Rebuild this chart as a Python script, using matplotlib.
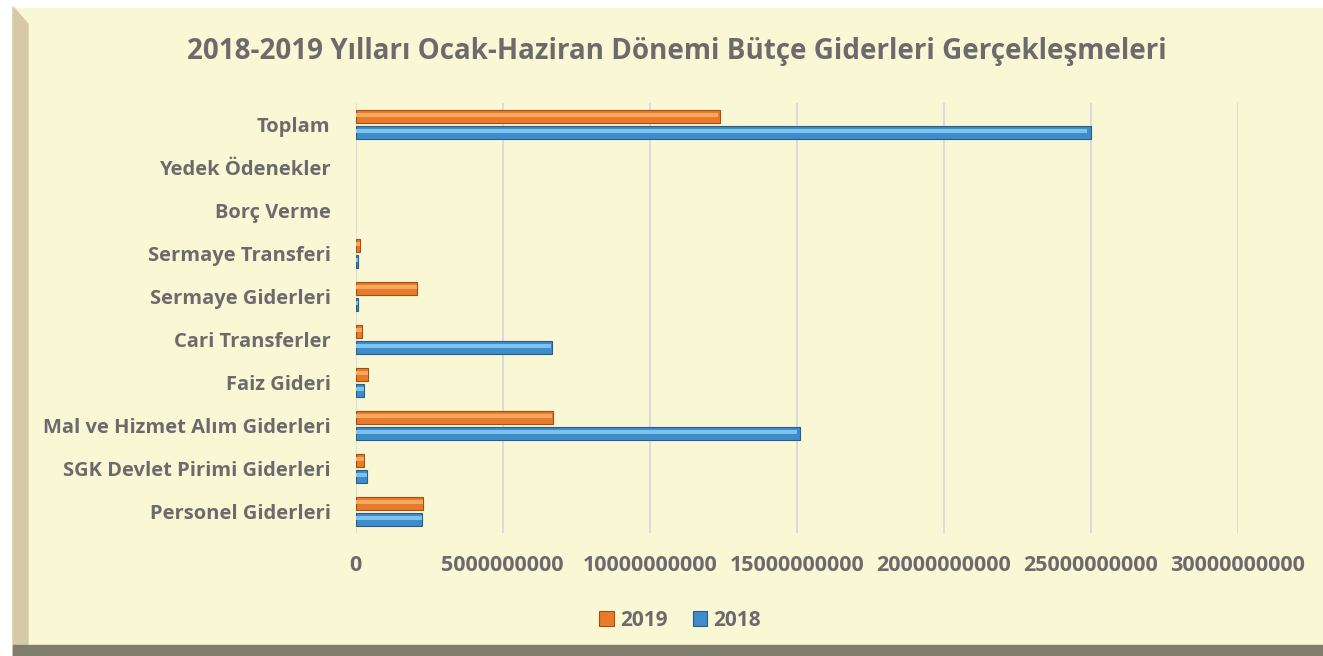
import matplotlib
matplotlib.use("Agg")
import matplotlib.pyplot as plt
import numpy as np
from matplotlib.patches import Rectangle, Polygon

categories = ["Personel Giderleri", "SGK Devlet Pirimi Giderleri", "Mal ve Hizmet Alım Giderleri",
              "Faiz Gideri", "Cari Transferler", "Sermaye Giderleri", "Sermaye Transferi",
              "Borç Verme", "Yedek Ödenekler", "Toplam"]
values_2019 = [2.30e9, 0.30e9, 6.70e9, 0.44e9, 0.21e9, 2.10e9, 0.14e9, 0.0, 0.0, 12.38e9]
values_2018 = [2.27e9, 0.38e9, 15.10e9, 0.30e9, 6.67e9, 0.07e9, 0.07e9, 0.0, 0.0, 25.0e9]
xticks = [0, 5000000000, 10000000000, 15000000000, 20000000000, 25000000000, 30000000000]
title = "2018-2019 Yılları Ocak-Haziran Dönemi Bütçe Giderleri Gerçekleşmeleri"

plt.rcParams['font.family'] = ['Open Sans', 'DejaVu Sans']
bg = "#faf7d4"
txt = "#6b6b6e"

fig = plt.figure(figsize=(13.23, 6.56), dpi=100, facecolor=bg)
W, H = 1323, 656
# frame decorations
fig.patches.append(Rectangle((0, 1 - 7 / H), 1, 7 / H, transform=fig.transFigure, color="white", zorder=0))
fig.patches.append(Rectangle((0, 0), 13 / W, 1, transform=fig.transFigure, color="white", zorder=0))
fig.patches.append(Polygon([(13 / W, 1 - 7 / H), (28 / W, 1 - 24 / H), (28 / W, 12 / H), (13 / W, 0)],
                           closed=True, transform=fig.transFigure, color="#d8c9a5", zorder=0))
fig.patches.append(Rectangle((13 / W, 0), 1 - 13 / W, 11 / H, transform=fig.transFigure, color="#7f7d6b", zorder=0))

ax = fig.add_axes([355.5 / W, 1 - 533 / H, (1238 - 355.5) / W, (533 - 103) / H])
ax.set_facecolor(bg)
y = np.arange(len(categories))
h = 0.31
c19, c19e, c19h = "#e87a2c", "#a44d14", "#f6a85e"
c18, c18e, c18h = "#3d8ccc", "#2a5c88", "#7cc4ec"

lw19 = [0.8 if v > 0 else 0 for v in values_2019]
lw18 = [0.8 if v > 0 else 0 for v in values_2018]
ax.barh(y + 0.18, values_2019, height=h, color=c19, edgecolor=c19e, linewidth=lw19, zorder=3, label="2019")
ax.barh(y - 0.18, values_2018, height=h, color=c18, edgecolor=c18e, linewidth=lw18, zorder=3, label="2018")
# highlight stripes
ax.barh(y + 0.18 + 0.04, np.array(values_2019) * 0.995, height=h * 0.3, color=c19h, linewidth=0, zorder=4)
ax.barh(y - 0.18 + 0.04, np.array(values_2018) * 0.995, height=h * 0.3, color=c18h, linewidth=0, zorder=4)

ax.set_xlim(0, 30e9)
ax.set_ylim(-0.5, len(categories) - 0.5)
ax.set_xticks(xticks)
ax.set_xticklabels([str(v) for v in xticks])
ax.set_yticks(y)
ax.set_yticklabels(categories)
ax.tick_params(axis='x', length=0, labelsize=15.5, labelcolor=txt, pad=16)
ax.tick_params(axis='y', length=0, labelsize=14.5, labelcolor=txt, pad=18)
for lab in ax.get_xticklabels() + ax.get_yticklabels():
    lab.set_fontweight('bold')
ax.grid(axis='x', color="#d8d8de", linewidth=1.3, zorder=0)
ax.set_axisbelow(True)
for s in ax.spines.values():
    s.set_visible(False)

fig.text(0.5115, 1 - 51 / H, title, ha='center', va='center', fontsize=20, fontweight='bold', color=txt)

handles, labels = ax.get_legend_handles_labels()
leg = fig.legend(handles, labels, loc='center', bbox_to_anchor=(680 / W, 1 - 620 / H), ncol=2, frameon=False,
                 fontsize=15, handlelength=0.7, handleheight=0.7, handletextpad=0.3, columnspacing=1.2)
for t in leg.get_texts():
    t.set_fontweight('bold')
    t.set_color(txt)

fig.savefig("out.png", dpi=100, facecolor=bg)
